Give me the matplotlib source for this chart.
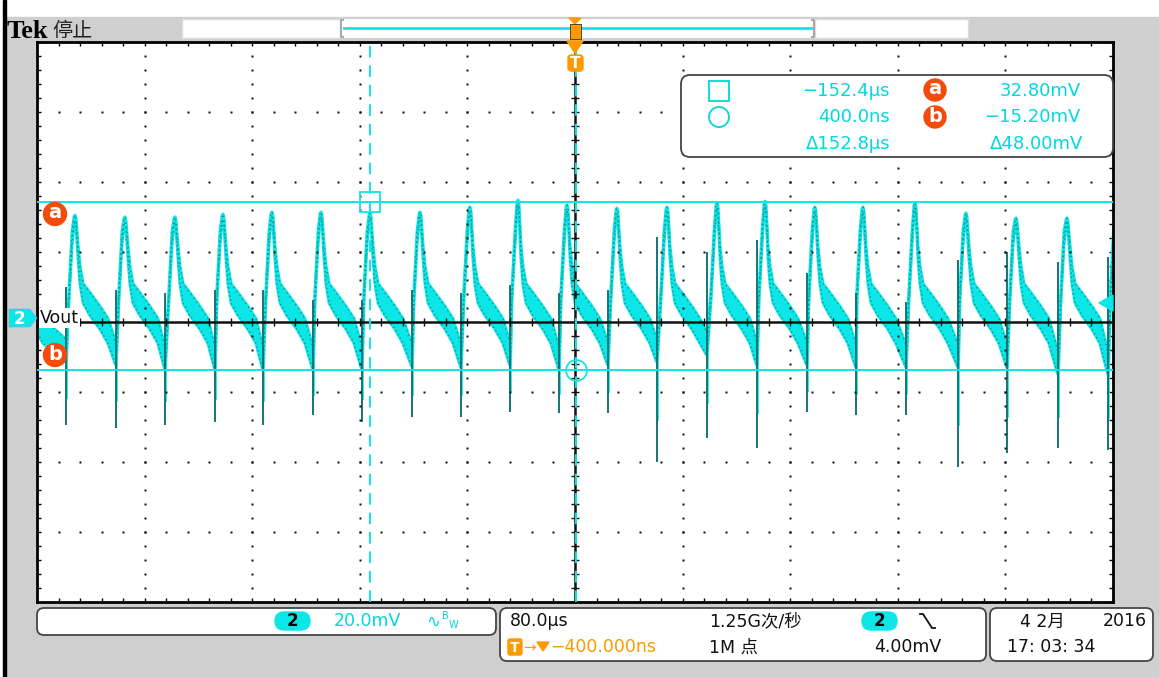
import numpy as np
import matplotlib
matplotlib.use("Agg")
import matplotlib.pyplot as plt
from matplotlib.patches import FancyBboxPatch, Rectangle, Circle, Polygon

FONT = ["DejaVu Sans", "Noto Sans CJK SC"]
plt.rcParams["font.family"] = FONT

# ---------------- data ----------------
# time in microseconds, voltage in mV (channel 2, 20 mV/div, 80 us/div)
peak_us = [-420.0, -371.7, -334.6, -297.4, -261.7, -225.3, -188.8, -152.4,
           -115.2, -78.1, -42.4, -5.9, 31.2, 68.4, 105.6, 141.3, 178.4,
           214.1, 252.8, 290.7, 327.9, 365.8, 402.6]
peak_mv = [29.0, 29.1, 28.6, 28.6, 29.4, 30.0, 30.0, 29.7, 30.0, 31.4, 33.4,
           32.0, 31.1, 31.4, 32.6, 33.1, 31.4, 31.4, 32.6, 29.7, 28.3, 28.3, 30.0]
spike_us = [-378.4, -341.3, -304.8, -267.7, -232.0, -194.8, -158.4, -121.2,
            -84.8, -48.3, -11.9, 24.5, 61.0, 98.1, 135.3, 172.5, 208.9, 246.1,
            284.8, 321.2, 359.1, 396.3]
trough_mv = [-12.3, -13.1, -14.3, -14.3, -14.3, -14.3, -14.3, -13.5, -13.7,
             -13.1, -14.3, -13.1, -12.3, -10.3, -13.1, -13.1, -13.7, -13.7,
             -13.7, -13.7, -15.7, -15.7]
spike_min_mv = [-30.9, -31.7, -30.9, -30.0, -30.9, -28.0, -30.0, -28.6, -28.6,
                -27.1, -27.4, -27.4, -41.4, -34.6, -37.4, -27.1, -28.0, -28.0,
                -42.9, -38.9, -37.4, -38.0]
spike_max_mv = [8.7, 7.7, 6.8, 7.7, 7.7, 4.9, 4.9, 7.7, 6.8, 9.1, 6.8, 7.7,
                22.9, 18.7, 22.0, 12.5, 6.8, 4.4, 16.3, 18.7, 15.8, 17.2]

# one cycle's outline relative to its peak (offset us, upper mV, lower mV)
shape_off = [-4.5, -2.2, -0.7, 0.0, 0.7, 2.2, 3.7, 6.0, 11.0, 18.6, 24.5]
shape_up = [7.5, 24.5, None, None, None, 20.5, 14.5, 9.5, 7.0, 3.0, -0.5]
shape_lo = [5.0, 21.0, None, None, None, 17.0, 9.5, 4.0, 0.5, -3.5, -7.5]
peak_drop_up = [0.5, 0.0, 1.0]
peak_drop_lo = [2.5, 1.5, 3.0]

cursor_t = [-152.4, 0.4]
cursor_v = [32.80, -15.20]

xlim = (-400.0, 400.0)
ylim = (-81.43, 78.57)

# ---------------- build the trace ----------------
T, UP, LO = [], [], []
n_sp = len(spike_us)
for i, (tp, pk) in enumerate(zip(peak_us, peak_mv)):
    tr0 = trough_mv[max(i - 1, 0)]
    t0 = spike_us[i - 1] + 0.3 if i > 0 else tp - 6.0
    T.append(t0); UP.append(tr0 + 5.0); LO.append(tr0)
    k = 0
    for off, u, l in zip(shape_off, shape_up, shape_lo):
        if u is None:
            u = pk - peak_drop_up[k]; l = pk - peak_drop_lo[k]; k += 1
        T.append(tp + off); UP.append(u); LO.append(l)
    if i < n_sp:
        T.append(spike_us[i] - 0.3); UP.append(trough_mv[i] + 6.0); LO.append(trough_mv[i] - 0.5)
T = np.array(T); UP = np.array(UP); LO = np.array(LO)

# ---------------- figure ----------------
W, H = 1159, 677
fig = plt.figure(figsize=(W / 100, H / 100), dpi=100)
GRAY = "#cfcfcf"
CYAN = "#0de6e6"
TXTC = "#00d8dc"
DARK = "#157575"
ORANGE = "#ff9900"
RED = "#f44a0c"

bg = fig.add_axes([0, 0, 1, 1], zorder=0)
bg.set_xlim(0, W); bg.set_ylim(H, 0); bg.axis("off")
bg.add_patch(Rectangle((0, 0), W, H, color="white"))
bg.add_patch(Rectangle((5.5, 17), W, H, color=GRAY))
bg.add_patch(Rectangle((2.5, 0), 3, H, color="black"))
# top bar
bg.add_patch(Rectangle((182, 19), 158, 19, facecolor="white", edgecolor="#dddddd", lw=1))
bg.add_patch(Rectangle((340, 19), 475, 19, facecolor="white", edgecolor="none"))
bg.add_patch(Rectangle((815, 19), 153, 19, facecolor="white", edgecolor="#dddddd", lw=1))
bg.plot([344, 812], [28, 28], color=CYAN, lw=2)
bg.plot([343, 341, 341, 343], [20, 20, 37, 37], color="#aaaaaa", lw=1.5)
bg.plot([812, 814, 814, 812], [20, 20, 37, 37], color="#aaaaaa", lw=1.5)
bg.text(7, 31, "Tek", family="Liberation Serif", fontweight="bold", fontsize=19,
        va="center", ha="left", color="black")
bg.text(52, 31, "停止", family=["Noto Sans CJK SC"], fontsize=14.5, va="center",
        ha="left", color="#222222")

# ---------------- scope axes ----------------
L, TOP, R, B = 37, 42, 1113, 602
ax = fig.add_axes([L / W, 1 - B / H, (R - L) / W, (B - TOP) / H], zorder=1)
ax.set_facecolor("white")
ax.set_xlim(*xlim); ax.set_ylim(*ylim)
for s in ax.spines.values():
    s.set_linewidth(2); s.set_color("black")
ax.set_xticks(np.linspace(xlim[0], xlim[1], 51))
ax.set_yticks(np.linspace(ylim[0], ylim[1], 41))
ax.tick_params(axis="both", which="both", direction="in", length=3, width=1,
               top=True, right=True, labelbottom=False, labelleft=False,
               color="black")

# trace
ax.fill_between(T, LO, UP, color=CYAN, lw=0, zorder=2)
ax.plot(T, UP, color=CYAN, lw=2.2, zorder=2)
ax.plot(T, LO, color=CYAN, lw=2.2, zorder=2)
ax.plot(T, UP, color="#1f8f8f", lw=1.0, ls=(0, (1, 2.5)), zorder=2.1)
ax.plot(T, LO, color="#1f8f8f", lw=1.0, ls=(0, (1, 2.0)), zorder=2.1)
ax.vlines(spike_us, spike_min_mv, spike_max_mv, color=DARK, lw=1.4, zorder=2.2)
ax.vlines(np.array(spike_us) + 0.7, np.array(spike_min_mv) * 0.6 + np.array(trough_mv) * 0.4,
          trough_mv, color=CYAN, lw=1.2, zorder=2.15)

# graticule (axes coordinates)
tr = ax.transAxes
for k in range(1, 10):
    if k == 5:
        continue
    yy = np.arange(1, 40) / 40
    ax.plot(np.full_like(yy, k / 10), yy, ls="none", marker="s", ms=1.5,
            mec="none", mfc="#111111", transform=tr, zorder=3)
for k in range(1, 8):
    if k == 4:
        continue
    xx = np.arange(1, 50) / 50
    ax.plot(xx, np.full_like(xx, k / 8), ls="none", marker="s", ms=1.5,
            mec="none", mfc="#111111", transform=tr, zorder=3)
ax.plot([0, 1], [0.5, 0.5], color="#111111", lw=1.8, transform=tr, zorder=3)
ax.plot([0.5, 0.5], [0, 1], color="#111111", lw=1.8, transform=tr, zorder=3)
xx = np.arange(1, 50) / 50
ax.plot(xx, np.full_like(xx, 0.5), ls="none", marker="|", ms=6, mew=1,
        color="#111111", transform=tr, zorder=3)
yy = np.arange(1, 40) / 40
ax.plot(np.full_like(yy, 0.5), yy, ls="none", marker="_", ms=6, mew=1,
        color="#111111", transform=tr, zorder=3)

# cursors
for v in cursor_v:
    ax.axhline(v, color=CYAN, lw=1.4, zorder=4)
ax.axvline(cursor_t[0], color=CYAN, lw=1.4, ls=(0, (6, 4)), zorder=4)
ax.axvline(cursor_t[1], color=CYAN, lw=1.4, ls=(0, (6, 4)), zorder=4)
ax.plot([cursor_t[0]], [cursor_v[0]], marker="s", ms=14, mfc="none", mec=CYAN,
        mew=1.3, zorder=5)
ax.plot([cursor_t[1]], [cursor_v[1]], marker="o", ms=15, mfc="none", mec=CYAN,
        mew=1.3, zorder=5)

# ---------------- overlay (pixel coords) ----------------
ov = fig.add_axes([0, 0, 1, 1], zorder=3)
ov.set_xlim(0, W); ov.set_ylim(H, 0); ov.axis("off"); ov.patch.set_alpha(0)

# trigger position marker
ov.add_patch(Polygon([[569, 18], [581, 18], [575, 24]], color=ORANGE))
ov.add_patch(Rectangle((570, 24), 11, 15, facecolor=ORANGE, edgecolor="#333333", lw=0.6))
ov.add_patch(Polygon([[567, 41], [583, 41], [575, 53]], color=ORANGE))
ov.add_patch(FancyBboxPatch((568, 55), 15, 16, boxstyle="round,pad=0,rounding_size=3",
                            color=ORANGE))
ov.text(575.5, 63.5, "T", color="white", fontsize=11, fontweight="bold",
        ha="center", va="center")

# channel marker, Vout label, cursor badges
ov.add_patch(Polygon([[9, 309], [30, 309], [37, 318], [30, 327], [9, 327]],
                     facecolor=CYAN, edgecolor="#8ae", lw=0.5))
ov.text(19, 318.5, "2", color="white", fontsize=12, fontweight="bold",
        ha="center", va="center")
ov.text(40, 318, "Vout", color="#111111", fontsize=12.5, ha="left", va="center",
        bbox=dict(boxstyle="square,pad=0.05", fc="white", ec="none"))
for (cx, cy, s) in [(55, 214, "a"), (55, 355, "b")]:
    ov.add_patch(Circle((cx, cy), 11.5, color=RED))
    ov.text(cx, cy - 1, s, color="white", fontsize=14, fontweight="bold",
            ha="center", va="center")
ov.add_patch(Polygon([[1099, 303], [1113, 295], [1113, 311]], color=CYAN))

# measurement readout box
ov.add_patch(FancyBboxPatch((681, 75), 432, 82, boxstyle="round,pad=0,rounding_size=9",
                            facecolor="white", edgecolor="#444444", lw=1.3))
ov.add_patch(Rectangle((709, 81), 20, 20, fill=False, edgecolor=TXTC, lw=1.3))
ov.add_patch(Circle((719, 117), 10, fill=False, edgecolor=TXTC, lw=1.3))
mfs = 13
ov.text(890, 91, "\u2212152.4\u00b5s", color=TXTC, fontsize=mfs, ha="right", va="center")
ov.text(890, 117, "400.0ns", color=TXTC, fontsize=mfs, ha="right", va="center")
ov.text(890, 144, "\u0394152.8\u00b5s", color=TXTC, fontsize=mfs, ha="right", va="center")
ov.text(1081, 91, "32.80mV", color=TXTC, fontsize=mfs, ha="right", va="center")
ov.text(1081, 117, "\u221215.20mV", color=TXTC, fontsize=mfs, ha="right", va="center")
ov.text(1083, 144, "\u039448.00mV", color=TXTC, fontsize=mfs, ha="right", va="center")
for (cx, cy, s) in [(935, 90, "a"), (935, 117, "b")]:
    ov.add_patch(Circle((cx, cy), 11, color=RED))
    ov.text(cx, cy - 1, s, color="white", fontsize=14, fontweight="bold",
            ha="center", va="center")

# bottom info boxes
bfs = 12.5
ov.add_patch(FancyBboxPatch((37, 608), 459, 27, boxstyle="round,pad=0,rounding_size=7",
                            facecolor="white", edgecolor="#444444", lw=1.3))
ov.add_patch(FancyBboxPatch((275, 612), 35, 18, boxstyle="round,pad=0,rounding_size=9",
                            color=CYAN))
ov.text(292.5, 621.5, "2", color="black", fontsize=12, fontweight="bold",
        ha="center", va="center")
ov.text(334, 621.5, "20.0mV", color=TXTC, fontsize=bfs, ha="left", va="center")
ov.text(426, 621.5, "\u223f", color=TXTC, fontsize=12, ha="left", va="center")
ov.text(442, 616, "B", color=TXTC, fontsize=7, ha="left", va="center")
ov.text(449, 625, "W", color=TXTC, fontsize=7, ha="left", va="center")

ov.add_patch(FancyBboxPatch((500, 608), 486, 53, boxstyle="round,pad=0,rounding_size=7",
                            facecolor="white", edgecolor="#444444", lw=1.3))
ov.text(510, 621.5, "80.0\u00b5s", color="#111111", fontsize=bfs, ha="left", va="center")
ov.text(709, 621.5, "1.25G次/秒", color="#111111", fontsize=bfs, ha="left", va="center")
ov.add_patch(FancyBboxPatch((862, 612), 35, 18, boxstyle="round,pad=0,rounding_size=9",
                            color=CYAN))
ov.text(879.5, 621.5, "2", color="black", fontsize=12, fontweight="bold",
        ha="center", va="center")
ov.plot([920, 923, 932, 935], [614, 614, 628, 628], color="#111111", lw=1.3)
ov.add_patch(FancyBboxPatch((508, 639), 14, 16, boxstyle="round,pad=0,rounding_size=2",
                            color=ORANGE))
ov.text(515, 647.5, "T", color="white", fontsize=10, fontweight="bold",
        ha="center", va="center")
ov.text(523, 647.5, "\u2192", color=ORANGE, fontsize=11, ha="left", va="center")
ov.add_patch(Polygon([[537, 642], [549, 642], [543, 651]], color=ORANGE))
ov.text(550, 647.5, "\u2212400.000ns", color=ORANGE, fontsize=bfs, ha="left", va="center")
ov.text(709, 647.5, "1M 点", color="#111111", fontsize=bfs, ha="left", va="center")
ov.text(874, 647.5, "4.00mV", color="#111111", fontsize=bfs, ha="left", va="center")

ov.add_patch(FancyBboxPatch((990, 608), 163, 53, boxstyle="round,pad=0,rounding_size=7",
                            facecolor="white", edgecolor="#444444", lw=1.3))
ov.text(1020, 621.5, "4 2月", color="#111111", fontsize=bfs, ha="left", va="center")
ov.text(1147, 621.5, "2016", color="#111111", fontsize=bfs, ha="right", va="center")
ov.text(1007, 647.5, "17: 03: 34", color="#111111", fontsize=bfs, ha="left", va="center")

fig.savefig("out.png", dpi=100)
